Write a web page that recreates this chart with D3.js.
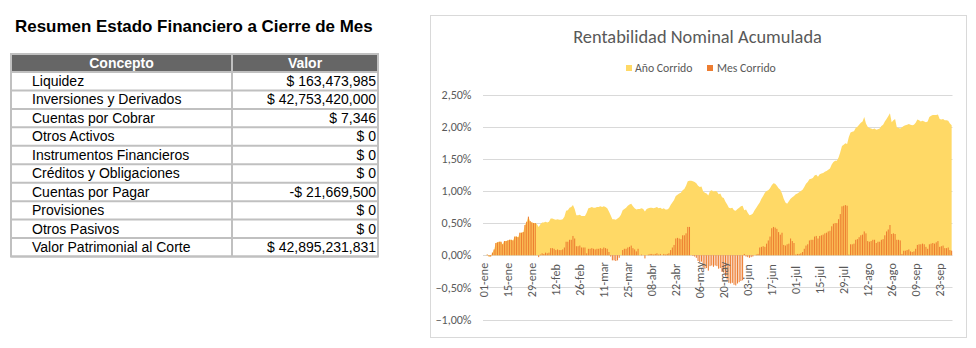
<!DOCTYPE html>
<html><head><meta charset="utf-8">
<script src="https://cdn.jsdelivr.net/npm/d3@7"></script>
<style>body{margin:0;background:#fff}</style>
</head><body><svg id="c" width="976" height="348"></svg>
<script>
// ---------- Table data ----------
const tableTitle = "Resumen Estado Financiero a Cierre de Mes";
const tableHeaders = ["Concepto", "Valor"];
const conceptos = ["Liquidez","Inversiones y Derivados","Cuentas por Cobrar","Otros Activos","Instrumentos Financieros","Créditos y Obligaciones","Cuentas por Pagar","Provisiones","Otros Pasivos","Valor Patrimonial al Corte"];
const valores = ["$ 163,473,985","$ 42,753,420,000","$ 7,346","$ 0","$ 0","$ 0","-$ 21,669,500","$ 0","$ 0","$ 42,895,231,831"];

// ---------- Chart data (percent) ----------
const chartTitle = "Rentabilidad Nominal Acumulada";
const seriesNames = ["Año Corrido", "Mes Corrido"];
const tickLabels = ["01-ene","15-ene","29-ene","12-feb","26-feb","11-mar","25-mar","08-abr","22-abr","06-may","20-may","03-jun","17-jun","01-jul","15-jul","29-jul","12-ago","26-ago","09-sep","23-sep"];
const yTicks = [-1.0,-0.5,0,0.5,1.0,1.5,2.0,2.5];
const monthAbbr = ["ene","feb","mar","abr","may","jun","jul","ago","sep"];

const anioEne = [0,0,0.01,-0.02,-0.02,0.04,0.09,0.19,0.20,0.21,0.21,0.17,0.22,0.22,0.23,0.24,0.24,0.23,0.29,0.29,0.28,0.35,0.35,0.36,0.47,0.52,0.60,0.53,0.51,0.50,0.50];
const anioFeb = [0.48,0.44,0.48,0.51,0.51,0.52,0.51,0.52,0.57,0.57,0.56,0.55,0.56,0.55,0.55,0.56,0.60,0.69,0.70,0.74,0.75,0.78,0.72,0.62,0.62,0.63,0.61,0.61,0.61];
const anioMar = [0.66,0.73,0.74,0.75,0.74,0.74,0.75,0.75,0.76,0.75,0.76,0.75,0.73,0.68,0.62,0.56,0.56,0.55,0.57,0.59,0.63,0.70,0.72,0.74,0.77,0.79,0.80,0.76,0.73,0.71,0.72];
const anioAbr = [0.72,0.73,0.72,0.68,0.72,0.73,0.74,0.74,0.73,0.74,0.75,0.73,0.74,0.72,0.73,0.71,0.71,0.73,0.78,0.82,0.86,0.92,0.94,0.96,0.97,1.01,1.03,1.08,1.15,1.16];
const anioMay = [1.16,1.15,1.14,1.12,1.08,1.06,1.07,0.99,0.97,0.96,0.93,1.00,1.01,0.99,1.00,0.99,0.95,0.96,0.90,0.89,0.83,0.79,0.74,0.73,0.74,0.70,0.69,0.72,0.74,0.76,0.77];
const anioJun = [0.70,0.71,0.66,0.62,0.63,0.65,0.70,0.74,0.78,0.82,0.88,0.92,0.97,1.00,1.01,1.04,1.09,1.12,1.11,1.08,1.04,1.02,0.96,0.88,0.82,0.80,0.84,0.88,0.90,0.92];
const anioJul = [0.95,0.96,0.98,1.00,1.02,1.06,1.11,1.14,1.18,1.19,1.20,1.24,1.25,1.22,1.26,1.27,1.28,1.30,1.31,1.33,1.35,1.41,1.45,1.47,1.47,1.52,1.60,1.70,1.72,1.74,1.73];
const anioAgo = [1.84,1.91,1.92,1.93,1.98,2.00,2.03,2.06,2.08,2.15,2.05,2.00,1.98,1.97,1.96,1.97,1.95,1.96,1.97,2.01,2.03,2.08,2.12,2.16,2.21,2.07,2.10,2.12,1.99,1.98,1.97];
const anioSep = [1.99,2.01,2.02,2.03,2.04,2.03,2.02,2.03,2.06,2.11,2.10,2.08,2.09,2.08,2.07,2.08,2.15,2.17,2.18,2.18,2.18,2.19,2.12,2.11,2.12,2.10,2.10,2.09,2.05,2.02];

const mesEne = [0,0,0.01,-0.02,-0.02,0.04,0.09,0.19,0.20,0.21,0.21,0.17,0.22,0.22,0.23,0.24,0.24,0.23,0.29,0.29,0.28,0.35,0.35,0.36,0.47,0.52,0.60,0.53,0.51,0.50,0.50];
const mesFeb = [0.00,-0.03,0.01,0.03,0.02,0.04,0.03,0.04,0.11,0.11,0.10,0.08,0.09,0.08,0.08,0.09,0.12,0.21,0.21,0.24,0.24,0.30,0.26,0.14,0.14,0.15,0.12,0.12,0.12];
const mesMar = [0.03,0.10,0.10,0.11,0.10,0.09,0.10,0.10,0.11,0.10,0.12,0.11,0.10,0.05,-0.02,-0.08,-0.08,-0.09,-0.08,-0.04,0.00,0.08,0.10,0.10,0.12,0.13,0.15,0.11,0.09,0.06,0.10];
const mesAbr = [0.00,0.01,0.00,-0.05,0.00,0.01,0.02,0.02,0.01,0.02,0.03,0.01,0.02,0.00,0.02,0.01,0.02,0.03,0.08,0.12,0.16,0.26,0.27,0.26,0.25,0.31,0.31,0.34,0.44,0.44];
const mesMay = [0.00,-0.01,-0.02,-0.04,-0.09,-0.11,-0.10,-0.19,-0.21,-0.20,-0.24,-0.17,-0.16,-0.18,-0.16,-0.17,-0.21,-0.20,-0.26,-0.27,-0.33,-0.38,-0.43,-0.44,-0.43,-0.46,-0.47,-0.44,-0.42,-0.40,-0.39];
const mesJun = [0.02,-0.02,-0.03,-0.04,-0.03,-0.02,0.00,0.01,0.02,0.12,0.13,0.14,0.13,0.18,0.23,0.29,0.42,0.44,0.43,0.41,0.36,0.32,0.35,0.16,0.15,0.17,0.18,0.26,0.22,0.19];
const mesJul = [0.01,0.02,0.02,0.03,0.05,0.10,0.15,0.17,0.23,0.24,0.24,0.29,0.30,0.26,0.30,0.31,0.32,0.34,0.35,0.37,0.38,0.45,0.49,0.50,0.50,0.56,0.64,0.76,0.77,0.78,0.77];
const mesAgo = [0.01,0.17,0.17,0.18,0.24,0.25,0.28,0.31,0.32,0.37,0.34,0.22,0.21,0.22,0.24,0.24,0.19,0.21,0.21,0.24,0.25,0.31,0.37,0.40,0.47,0.33,0.34,0.33,0.24,0.24,0.23];
const mesSep = [0.02,0.07,0.07,0.08,0.09,0.06,0.05,0.06,0.10,0.16,0.17,0.17,0.18,0.17,0.13,0.10,0.17,0.18,0.19,0.18,0.20,0.22,0.13,0.14,0.15,0.11,0.11,0.12,0.08,0.07];

const anioMonths = [anioEne,anioFeb,anioMar,anioAbr,anioMay,anioJun,anioJul,anioAgo,anioSep];
const mesMonths = [mesEne,mesFeb,mesMar,mesAbr,mesMay,mesJun,mesJul,mesAgo,mesSep];

// ---------- build daily rows ----------
const rows = [];
anioMonths.forEach((arr, m) => {
  arr.forEach((v, i) => rows.push({date: new Date(Date.UTC(2020, m, i + 1)), anio: v, mes: mesMonths[m][i]}));
});

const svg = d3.select("#c");
const calibri = "Carlito, Calibri, Lato, 'Open Sans', sans-serif";
const arial = "'Liberation Sans', Arial, Helvetica, sans-serif";
const grey = "#595959";

function fitFont(sel, target) {
  sel.attr("font-size", 100);
  const w = sel.node().getComputedTextLength();
  sel.attr("font-size", 100 * target / w);
  return 100 * target / w;
}

// ================= TABLE =================
const tbl = svg.append("g");
const tt = tbl.append("text").attr("x", 15).attr("y", 32).attr("font-family", arial)
  .attr("font-weight", "bold").attr("fill", "#000").text(tableTitle);
fitFont(tt, 358);

const tX0 = 11, tX1 = 378, tXm = 232, hY0 = 54, hY1 = 72, rowH = 18.45;
const nRows = conceptos.length;
const tBottom = hY1 + rowH * nRows;
tbl.append("rect").attr("x", tX0).attr("y", hY0).attr("width", tX1 - tX0).attr("height", hY1 - hY0).attr("fill", "#666666");
tbl.append("text").attr("x", (tX0 + tXm) / 2).attr("y", hY1 - 4.5).attr("text-anchor", "middle")
  .attr("font-family", arial).attr("font-weight", "bold").attr("font-size", 14).attr("fill", "#fff").text(tableHeaders[0]);
tbl.append("text").attr("x", (tXm + tX1) / 2).attr("y", hY1 - 4.5).attr("text-anchor", "middle")
  .attr("font-family", arial).attr("font-weight", "bold").attr("font-size", 14).attr("fill", "#fff").text(tableHeaders[1]);
const lineCol = "#c0c0c0";
for (let i = 0; i <= nRows; i++) {
  const y = hY1 + rowH * i;
  tbl.append("line").attr("x1", tX0).attr("x2", tX1).attr("y1", y).attr("y2", y).attr("stroke", lineCol).attr("stroke-width", 2);
}
tbl.append("rect").attr("x", tX0).attr("y", hY0).attr("width", tX1 - tX0).attr("height", tBottom - hY0)
  .attr("fill", "none").attr("stroke", lineCol).attr("stroke-width", 2);
tbl.append("line").attr("x1", tXm).attr("x2", tXm).attr("y1", hY0).attr("y2", tBottom).attr("stroke", lineCol).attr("stroke-width", 2);
conceptos.forEach((c, i) => {
  const yb = hY1 + rowH * i + 14;
  tbl.append("text").attr("x", 32).attr("y", yb).attr("font-family", arial).attr("font-size", 14).attr("fill", "#000").text(c);
  tbl.append("text").attr("x", 376).attr("y", yb).attr("text-anchor", "end").attr("font-family", arial).attr("font-size", 14).attr("fill", "#000").text(valores[i]);
});

// ================= CHART =================
const ch = svg.append("g");
ch.append("rect").attr("x", 430.5).attr("y", 15.5).attr("width", 536).attr("height", 322)
  .attr("fill", "#fff").attr("stroke", "#d9d9d9").attr("stroke-width", 1);

const ti = ch.append("text").attr("x", 697.5).attr("y", 42.5).attr("text-anchor", "middle")
  .attr("font-family", calibri).attr("fill", grey).text(chartTitle);
fitFont(ti, 249);

// scales
const x = d3.scaleUtc().domain([new Date(Date.UTC(2020,0,1)), new Date(Date.UTC(2020,9,1))]).range([483, 952.5]);
const half = 12 * 3600 * 1000;
const cx = d => x(new Date(+d + half));
const y = d3.scaleLinear().domain([-1, 2.5]).range([319.5, 94.5]);

// legend
const legY = 68;
ch.append("rect").attr("x", 626).attr("y", legY - 3).attr("width", 6).attr("height", 6).attr("fill", "#FFD966");
const l1 = ch.append("text").attr("x", 635).attr("y", legY + 4).attr("font-family", calibri).attr("fill", grey).text(seriesNames[0]);
const legSize = fitFont(l1, 57.5);
ch.append("rect").attr("x", 707).attr("y", legY - 3).attr("width", 6).attr("height", 6).attr("fill", "#ED7D31");
ch.append("text").attr("x", 717).attr("y", legY + 4).attr("font-family", calibri).attr("font-size", legSize).attr("fill", grey).text(seriesNames[1]);

// gridlines
ch.append("g").selectAll("line").data(yTicks).join("line")
  .attr("x1", 483).attr("x2", 952.5)
  .attr("y1", d => Math.round(y(d)) + 0.5).attr("y2", d => Math.round(y(d)) + 0.5)
  .attr("stroke", "#d9d9d9").attr("stroke-width", 1);

// area (Año Corrido)
const area = d3.area().x(d => cx(d.date)).y0(y(0)).y1(d => y(d.anio));
ch.append("path").datum(rows).attr("d", area).attr("fill", "#FFD966");

// bars (Mes Corrido)
const bw = 1.05;
ch.append("g").selectAll("rect").data(rows.filter(d => d.mes !== 0)).join("rect")
  .attr("x", d => cx(d.date) - bw / 2).attr("width", bw)
  .attr("y", d => d.mes >= 0 ? y(d.mes) : y(0))
  .attr("height", d => Math.abs(y(d.mes) - y(0)))
  .attr("fill", "#ED7D31");

// y axis labels
const fmt = d3.formatLocale({decimal: ",", thousands: ".", grouping: [3], currency: ["$", ""]}).format(".2%");
const yl = ch.append("g").selectAll("text").data(yTicks).join("text")
  .attr("x", 471.5).attr("y", d => y(d)).attr("dy", "0.35em").attr("text-anchor", "end")
  .attr("font-family", calibri).attr("fill", grey).text(d => fmt(d / 100));
const probe = yl.filter(d => d === 2.5);
const axSize = fitFont(probe, 30);
yl.attr("font-size", axSize);

// x axis labels
const tickDates = tickLabels.map(s => new Date(Date.UTC(2020, monthAbbr.indexOf(s.slice(3)), +s.slice(0, 2))));
ch.append("g").selectAll("text").data(tickLabels).join("text")
  .attr("transform", (s, i) => `translate(${cx(tickDates[i])},280) rotate(-90)`)
  .attr("text-anchor", "middle").attr("dy", "0.35em")
  .attr("font-family", calibri).attr("font-size", axSize).attr("fill", grey).text(s => s);
</script></body></html>
